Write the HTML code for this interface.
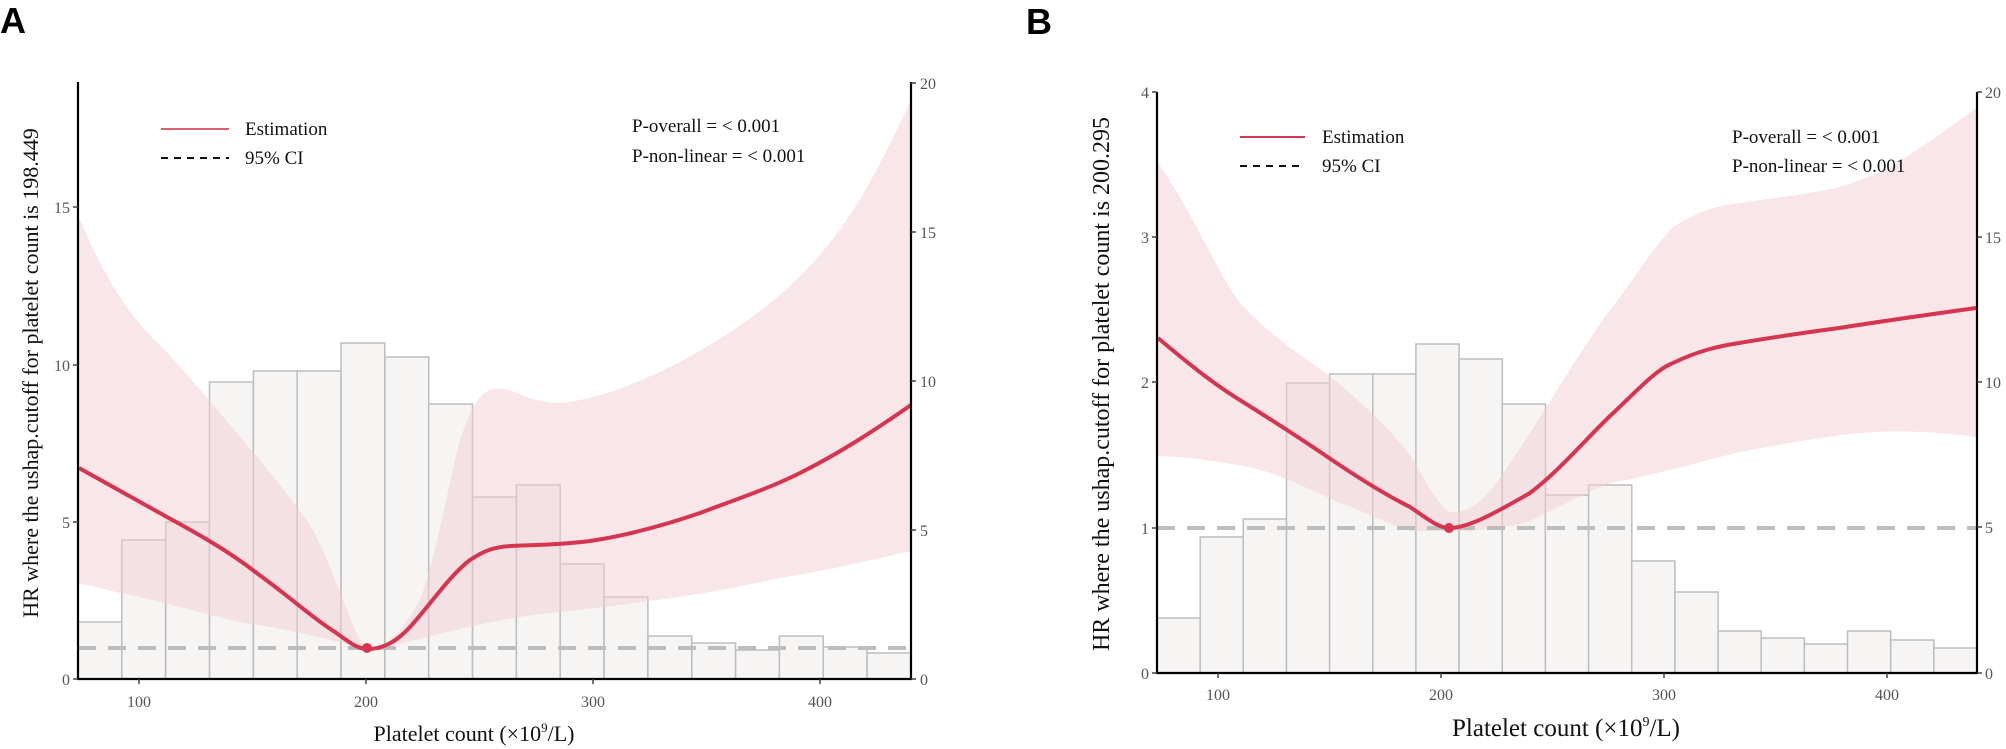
<!DOCTYPE html>
<html><head><meta charset="utf-8"><style>
html,body{margin:0;padding:0;background:#fff;}
svg{display:block;}
text{font-family:"Liberation Serif",serif;}
</style></head><body>
<svg width="2006" height="749" viewBox="0 0 2006 749" xmlns="http://www.w3.org/2000/svg">
<text x="0" y="33" style="font-family:'Liberation Sans',sans-serif;font-weight:bold;font-size:36px">A</text>
<text x="1026" y="34" style="font-family:'Liberation Sans',sans-serif;font-weight:bold;font-size:36px">B</text>

<!-- ===== Panel A ===== -->
<g stroke="#bdbdbd" stroke-width="1.5" fill="#f7f4f4">
<rect x="78" y="622" width="43.8" height="57"/>
<rect x="121.8" y="540" width="43.8" height="139"/>
<rect x="165.7" y="522" width="43.8" height="157"/>
<rect x="209.5" y="382" width="43.8" height="297"/>
<rect x="253.4" y="371" width="43.8" height="308"/>
<rect x="297.2" y="371" width="43.8" height="308"/>
<rect x="341" y="343" width="43.8" height="336"/>
<rect x="384.9" y="357" width="43.8" height="322"/>
<rect x="428.7" y="404" width="43.8" height="275"/>
<rect x="472.6" y="497" width="43.8" height="182"/>
<rect x="516.4" y="485" width="43.8" height="194"/>
<rect x="560.2" y="564" width="43.8" height="115"/>
<rect x="604.1" y="597" width="43.8" height="82"/>
<rect x="647.9" y="636" width="43.8" height="43"/>
<rect x="691.8" y="643" width="43.8" height="36"/>
<rect x="735.6" y="650" width="43.8" height="29"/>
<rect x="779.4" y="636" width="43.8" height="43"/>
<rect x="823.3" y="647" width="43.8" height="32"/>
<rect x="867.1" y="653" width="43.8" height="26"/>
</g>
<path d="M79,218 C100,265 120,305 150,335 C180,365 205,395 230,425 C260,460 285,490 310,525 C330,560 345,610 360,640 C365,648 372,649 380,646 C395,640 405,625 420,600 C435,560 445,500 460,440 C470,410 478,395 490,390 C500,386 510,390 530,398 C550,404 560,404 580,400 C610,394 640,382 680,362 C720,340 750,320 780,295 C810,268 830,245 850,215 C870,185 890,145 911,100 L911,551 C870,560 830,570 780,578 C730,589 680,598 633,603 C590,609 560,612 533,615 C500,620 480,624 460,629 C430,636 410,641 395,645 C380,648 372,649 367,649 C350,646 345,643 335,641 C290,630 260,625 239,622 C190,610 140,596 120,593 C100,588 90,585 79,584 Z" fill="#f2cdd3" fill-opacity="0.5"/>
<line x1="78" y1="648" x2="911" y2="648" stroke="#bdbdbd" stroke-width="4" stroke-dasharray="18,12"/>
<path d="M79,468 C110,485 140,502 167,517 C200,535 230,552 258,574 C290,597 315,620 335,632 C350,643 358,649 367,649 C385,649 398,640 410,627 C430,605 450,575 470,560 C485,550 495,547 510,546 C530,545 560,545 590,541 C630,535 665,525 700,513 C740,498 770,488 800,473 C840,453 875,430 911,405" fill="none" stroke="#d6354f" stroke-width="4"/>
<circle cx="367" cy="648" r="5" fill="#d6354f"/>
<g stroke="#000" stroke-width="2.2" fill="none">
<line x1="78" y1="82" x2="78" y2="680"/>
<line x1="77" y1="679" x2="912" y2="679"/>
<line x1="911" y1="82" x2="911" y2="680"/>
</g>
<g stroke="#444" stroke-width="1.5">
<line x1="73" y1="679" x2="78" y2="679"/><line x1="73" y1="522" x2="78" y2="522"/><line x1="73" y1="365" x2="78" y2="365"/><line x1="73" y1="207" x2="78" y2="207"/>
<line x1="911" y1="83" x2="916" y2="83"/><line x1="911" y1="232" x2="916" y2="232"/><line x1="911" y1="381" x2="916" y2="381"/><line x1="911" y1="530" x2="916" y2="530"/><line x1="911" y1="679" x2="916" y2="679"/>
<line x1="139" y1="679" x2="139" y2="684"/><line x1="366" y1="679" x2="366" y2="684"/><line x1="593" y1="679" x2="593" y2="684"/><line x1="820" y1="679" x2="820" y2="684"/>
</g>
<g fill="#555" font-size="16" text-anchor="end">
<text x="70" y="685">0</text><text x="70" y="528">5</text><text x="70" y="371">10</text><text x="70" y="213">15</text>
</g>
<g fill="#555" font-size="16">
<text x="920" y="89">20</text><text x="920" y="238">15</text><text x="920" y="387">10</text><text x="920" y="536">5</text><text x="920" y="685">0</text>
</g>
<g fill="#555" font-size="16" text-anchor="middle">
<text x="139" y="707">100</text><text x="366" y="707">200</text><text x="593" y="707">300</text><text x="820" y="707">400</text>
</g>
<text x="474" y="741" font-size="22" text-anchor="middle" fill="#111">Platelet count (×10<tspan font-size="13" dy="-9">9</tspan><tspan dy="9">/L)</tspan></text>
<text transform="translate(38,373) rotate(-90)" font-size="22" text-anchor="middle" fill="#111">HR where the ushap.cutoff for platelet count is 198.449</text>
<line x1="161" y1="129" x2="229" y2="129" stroke="#e06070" stroke-width="2"/>
<line x1="161" y1="158" x2="229" y2="158" stroke="#111" stroke-width="2" stroke-dasharray="7,6"/>
<text x="245" y="135" font-size="19" fill="#111">Estimation</text>
<text x="245" y="164" font-size="19" fill="#111">95% CI</text>
<text x="632" y="132" font-size="19" fill="#111">P-overall = &lt; 0.001</text>
<text x="632" y="162" font-size="19" fill="#111">P-non-linear = &lt; 0.001</text>

<!-- ===== Panel B ===== -->
<g stroke="#bdbdbd" stroke-width="1.5" fill="#f7f4f4">
<rect x="1157" y="618" width="43.2" height="55"/>
<rect x="1200.2" y="537" width="43.2" height="136"/>
<rect x="1243.3" y="519" width="43.2" height="154"/>
<rect x="1286.5" y="383" width="43.2" height="290"/>
<rect x="1329.6" y="374" width="43.2" height="299"/>
<rect x="1372.8" y="374" width="43.2" height="299"/>
<rect x="1415.9" y="344" width="43.2" height="329"/>
<rect x="1459.1" y="359" width="43.2" height="314"/>
<rect x="1502.3" y="404" width="43.2" height="269"/>
<rect x="1545.4" y="495" width="43.2" height="178"/>
<rect x="1588.6" y="485" width="43.2" height="188"/>
<rect x="1631.7" y="561" width="43.2" height="112"/>
<rect x="1674.9" y="592" width="43.2" height="81"/>
<rect x="1718.1" y="631" width="43.2" height="42"/>
<rect x="1761.2" y="638" width="43.2" height="35"/>
<rect x="1804.4" y="644" width="43.2" height="29"/>
<rect x="1847.5" y="631" width="43.2" height="42"/>
<rect x="1890.7" y="640" width="43.2" height="33"/>
<rect x="1933.8" y="648" width="43.2" height="25"/>
</g>
<path d="M1158,163 C1195,215 1220,280 1243,306 C1280,345 1310,360 1338,383 C1370,410 1395,435 1410,455 C1425,480 1438,505 1449,512 C1470,515 1490,495 1506,469 C1540,420 1580,350 1610,310 C1630,285 1655,245 1673,227 C1700,210 1720,205 1739,203 C1790,196 1820,192 1839,187 C1870,178 1890,168 1906,157 C1940,135 1960,120 1976,108 L1976,437 C1940,432 1900,430 1873,432 C1820,436 1780,445 1739,452 C1690,465 1640,478 1610,483 C1580,495 1550,512 1530,521 C1500,530 1470,531 1449,531 C1430,531 1420,531 1410,531 C1380,520 1360,510 1338,502 C1300,485 1270,470 1243,466 C1210,460 1185,457 1158,456 Z" fill="#f2cdd3" fill-opacity="0.5"/>
<line x1="1157" y1="528" x2="1976" y2="528" stroke="#bdbdbd" stroke-width="4" stroke-dasharray="18,12"/>
<path d="M1158,338 C1190,365 1215,385 1243,402 C1280,425 1310,445 1338,464 C1365,482 1390,497 1410,507 C1425,517 1438,528 1449,528 C1470,528 1500,510 1530,493 C1560,470 1585,440 1610,416 C1635,393 1655,370 1673,363 C1700,350 1720,346 1739,343 C1780,336 1810,332 1839,328 C1890,320 1940,313 1976,308" fill="none" stroke="#d6354f" stroke-width="4"/>
<circle cx="1449" cy="528" r="5" fill="#d6354f"/>
<g stroke="#000" stroke-width="2.2" fill="none">
<line x1="1157" y1="92" x2="1157" y2="674"/>
<line x1="1156" y1="673" x2="1978" y2="673"/>
<line x1="1977" y1="92" x2="1977" y2="674"/>
</g>
<g stroke="#444" stroke-width="1.5">
<line x1="1152" y1="673" x2="1157" y2="673"/><line x1="1152" y1="528" x2="1157" y2="528"/><line x1="1152" y1="382" x2="1157" y2="382"/><line x1="1152" y1="237" x2="1157" y2="237"/><line x1="1152" y1="92" x2="1157" y2="92"/>
<line x1="1977" y1="92" x2="1982" y2="92"/><line x1="1977" y1="237" x2="1982" y2="237"/><line x1="1977" y1="382" x2="1982" y2="382"/><line x1="1977" y1="527" x2="1982" y2="527"/><line x1="1977" y1="673" x2="1982" y2="673"/>
<line x1="1218" y1="673" x2="1218" y2="678"/><line x1="1441" y1="673" x2="1441" y2="678"/><line x1="1664" y1="673" x2="1664" y2="678"/><line x1="1887" y1="673" x2="1887" y2="678"/>
</g>
<g fill="#555" font-size="16" text-anchor="end">
<text x="1149" y="679">0</text><text x="1149" y="534">1</text><text x="1149" y="388">2</text><text x="1149" y="243">3</text><text x="1149" y="98">4</text>
</g>
<g fill="#555" font-size="16">
<text x="1985" y="98">20</text><text x="1985" y="243">15</text><text x="1985" y="388">10</text><text x="1985" y="533">5</text><text x="1985" y="679">0</text>
</g>
<g fill="#555" font-size="16" text-anchor="middle">
<text x="1218" y="700">100</text><text x="1441" y="700">200</text><text x="1664" y="700">300</text><text x="1887" y="700">400</text>
</g>
<text x="1566" y="736" font-size="25" text-anchor="middle" fill="#111">Platelet count (×10<tspan font-size="14" dy="-10">9</tspan><tspan dy="10">/L)</tspan></text>
<text transform="translate(1109,384) rotate(-90)" font-size="24" text-anchor="middle" fill="#111">HR where the ushap.cutoff for platelet count is 200.295</text>
<line x1="1240" y1="137" x2="1305" y2="137" stroke="#d6354f" stroke-width="2"/>
<line x1="1240" y1="166" x2="1305" y2="166" stroke="#111" stroke-width="2" stroke-dasharray="7,6"/>
<text x="1322" y="143" font-size="19" fill="#111">Estimation</text>
<text x="1322" y="172" font-size="19" fill="#111">95% CI</text>
<text x="1732" y="143" font-size="19" fill="#111">P-overall = &lt; 0.001</text>
<text x="1732" y="172" font-size="19" fill="#111">P-non-linear = &lt; 0.001</text>
</svg>
</body></html>
